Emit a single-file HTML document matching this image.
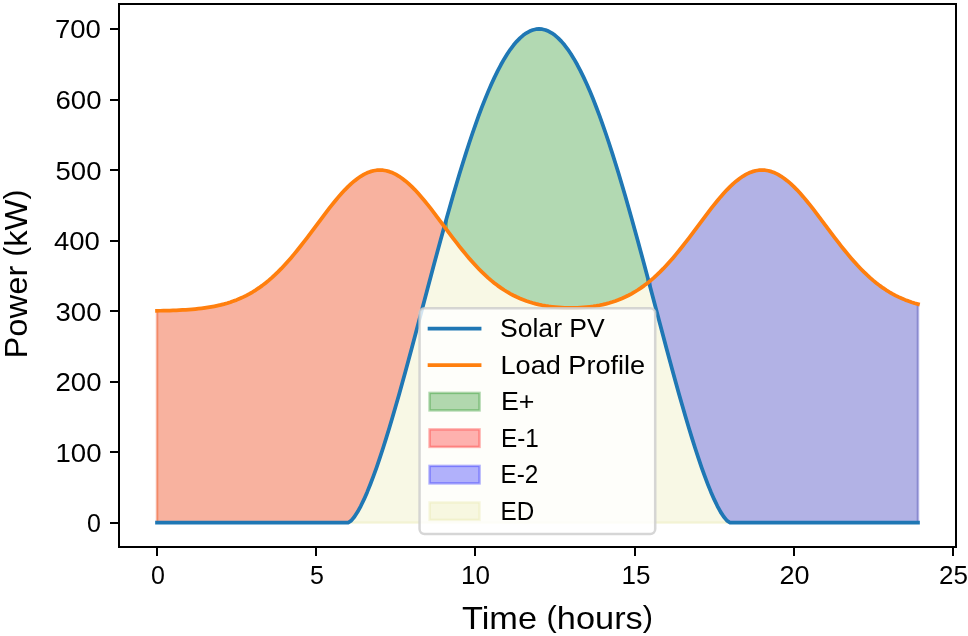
<!DOCTYPE html>
<html lang="en">
<head>
<meta charset="utf-8">
<title>Solar PV and Load Profile</title>
<style>
html,body{margin:0;padding:0;background:#fff;}
body{width:968px;height:636px;overflow:hidden;font-family:"Liberation Sans",sans-serif;}
svg{display:block;will-change:transform;}
svg text{font-family:"Liberation Sans",sans-serif;}
</style>
</head>
<body>
<svg width="968" height="636" viewBox="0 0 968 636" font-family="Liberation Sans, sans-serif" fill="#000">
<rect width="968" height="636" fill="#fff"/>
<g id="fills">
<polygon points="446.76,217.69 449.95,206.42 453.13,195.33 456.32,184.46 459.5,173.82 462.68,163.44 465.87,153.33 469.05,143.51 472.23,133.99 475.42,124.81 478.6,115.96 481.78,107.46 484.97,99.34 488.15,91.61 491.34,84.27 494.52,77.35 497.7,70.85 500.89,64.79 504.07,59.17 507.25,54.01 510.44,49.31 513.62,45.08 516.81,41.34 519.99,38.08 523.17,35.31 526.36,33.04 529.54,31.27 532.72,30 535.91,29.24 539.09,28.99 542.28,29.24 545.46,30 548.64,31.27 551.83,33.04 555.01,35.31 558.19,38.08 561.38,41.34 564.56,45.08 567.75,49.31 570.93,54.01 574.11,59.17 577.3,64.79 580.48,70.85 583.66,77.35 586.85,84.27 590.03,91.61 593.22,99.34 596.4,107.46 599.58,115.96 602.77,124.81 605.95,133.99 609.13,143.51 612.32,153.33 615.5,163.44 618.68,173.82 621.87,184.46 625.05,195.33 628.24,206.42 631.42,217.69 634.6,229.14 637.79,240.74 640.97,252.47 644.15,264.31 647.34,276.23 647.34,283.18 644.15,285.61 640.97,287.88 637.79,290.01 634.6,291.98 631.42,293.81 628.24,295.49 625.05,297.05 621.87,298.47 618.68,299.77 615.5,300.95 612.32,302.02 609.13,302.98 605.95,303.84 602.77,304.61 599.58,305.29 596.4,305.88 593.22,306.39 590.03,306.82 586.85,307.18 583.66,307.47 580.48,307.7 577.3,307.86 574.11,307.95 570.93,307.98 567.75,307.95 564.56,307.86 561.38,307.7 558.19,307.47 555.01,307.18 551.83,306.82 548.64,306.39 545.46,305.88 542.28,305.29 539.09,304.61 535.91,303.84 532.72,302.98 529.54,302.02 526.36,300.95 523.17,299.77 519.99,298.47 516.81,297.05 513.62,295.49 510.44,293.81 507.25,291.98 504.07,290.01 500.89,287.88 497.7,285.61 494.52,283.18 491.34,280.59 488.15,277.85 484.97,274.94 481.78,271.89 478.6,268.67 475.42,265.31 472.23,261.81 469.05,258.17 465.87,254.4 462.68,250.52 459.5,246.53 456.32,242.45 453.13,238.3 449.95,234.08 446.76,229.83" fill="#008000" fill-opacity="0.3" stroke="#008000" stroke-opacity="0.3" stroke-width="2.5" stroke-linejoin="round"/>
<polygon points="157.05,522.71 160.23,522.71 163.41,522.71 166.6,522.71 169.78,522.71 172.96,522.71 176.15,522.71 179.33,522.71 182.52,522.71 185.7,522.71 188.88,522.71 192.07,522.71 195.25,522.71 198.43,522.71 201.62,522.71 204.8,522.71 207.98,522.71 211.17,522.71 214.35,522.71 217.54,522.71 220.72,522.71 223.9,522.71 227.09,522.71 230.27,522.71 233.45,522.71 236.64,522.71 239.82,522.71 243.01,522.71 246.19,522.71 249.37,522.71 252.56,522.71 255.74,522.71 258.92,522.71 262.11,522.71 265.29,522.71 268.48,522.71 271.66,522.71 274.84,522.71 278.03,522.71 281.21,522.71 284.39,522.71 287.58,522.71 290.76,522.71 293.95,522.71 297.13,522.71 300.31,522.71 303.5,522.71 306.68,522.71 309.86,522.71 313.05,522.71 316.23,522.71 319.42,522.71 322.6,522.71 325.78,522.71 328.97,522.71 332.15,522.71 335.33,522.71 338.52,522.71 341.7,522.71 344.88,522.71 348.07,522.71 351.25,520.62 354.44,516.8 357.62,511.86 360.8,506.03 363.99,499.43 367.17,492.17 370.35,484.3 373.54,475.91 376.72,467.03 379.91,457.7 383.09,447.98 386.27,437.9 389.46,427.49 392.64,416.79 395.82,405.83 399.01,394.64 402.19,383.25 405.38,371.69 408.56,359.98 411.74,348.15 414.93,336.24 418.11,324.26 421.29,312.25 424.48,300.22 427.66,288.21 430.85,276.23 434.03,264.31 437.21,252.47 440.4,240.74 443.58,229.14 443.58,225.56 440.4,221.28 437.21,217.03 434.03,212.82 430.85,208.68 427.66,204.63 424.48,200.7 421.29,196.91 418.11,193.29 414.93,189.85 411.74,186.63 408.56,183.63 405.38,180.9 402.19,178.43 399.01,176.26 395.82,174.39 392.64,172.84 389.46,171.63 386.27,170.75 383.09,170.23 379.91,170.05 376.72,170.23 373.54,170.75 370.35,171.63 367.17,172.84 363.99,174.39 360.8,176.26 357.62,178.43 354.44,180.9 351.25,183.63 348.07,186.63 344.88,189.85 341.7,193.29 338.52,196.91 335.33,200.7 332.15,204.63 328.97,208.68 325.78,212.82 322.6,217.03 319.42,221.28 316.23,225.56 313.05,229.83 309.86,234.08 306.68,238.3 303.5,242.45 300.31,246.53 297.13,250.52 293.95,254.41 290.76,258.17 287.58,261.81 284.39,265.32 281.21,268.68 278.03,271.89 274.84,274.96 271.66,277.86 268.48,280.61 265.29,283.2 262.11,285.63 258.92,287.91 255.74,290.04 252.56,292.03 249.37,293.86 246.19,295.56 243.01,297.13 239.82,298.57 236.64,299.89 233.45,301.1 230.27,302.2 227.09,303.2 223.9,304.1 220.72,304.92 217.54,305.65 214.35,306.31 211.17,306.9 207.98,307.43 204.8,307.9 201.62,308.32 198.43,308.69 195.25,309.01 192.07,309.3 188.88,309.55 185.7,309.77 182.52,309.96 179.33,310.13 176.15,310.27 172.96,310.4 169.78,310.51 166.6,310.6 163.41,310.68 160.23,310.75 157.05,310.81" fill="#ff0000" fill-opacity="0.3" stroke="#ff0000" stroke-opacity="0.3" stroke-width="2.5" stroke-linejoin="round"/>
<polygon points="650.52,288.21 653.71,300.22 656.89,312.25 660.07,324.26 663.26,336.24 666.44,348.15 669.62,359.98 672.81,371.69 675.99,383.25 679.18,394.64 682.36,405.83 685.54,416.79 688.73,427.49 691.91,437.9 695.09,447.98 698.28,457.7 701.46,467.03 704.65,475.91 707.83,484.3 711.01,492.17 714.2,499.43 717.38,506.03 720.56,511.86 723.75,516.8 726.93,520.62 730.12,522.71 733.3,522.71 736.48,522.71 739.67,522.71 742.85,522.71 746.03,522.71 749.22,522.71 752.4,522.71 755.58,522.71 758.77,522.71 761.95,522.71 765.14,522.71 768.32,522.71 771.5,522.71 774.69,522.71 777.87,522.71 781.05,522.71 784.24,522.71 787.42,522.71 790.61,522.71 793.79,522.71 796.97,522.71 800.16,522.71 803.34,522.71 806.52,522.71 809.71,522.71 812.89,522.71 816.08,522.71 819.26,522.71 822.44,522.71 825.63,522.71 828.81,522.71 831.99,522.71 835.18,522.71 838.36,522.71 841.55,522.71 844.73,522.71 847.91,522.71 851.1,522.71 854.28,522.71 857.46,522.71 860.65,522.71 863.83,522.71 867.02,522.71 870.2,522.71 873.38,522.71 876.57,522.71 879.75,522.71 882.93,522.71 886.12,522.71 889.3,522.71 892.48,522.71 895.67,522.71 898.85,522.71 902.04,522.71 905.22,522.71 908.4,522.71 911.59,522.71 914.77,522.71 917.95,522.71 917.95,304.1 914.77,303.2 911.59,302.2 908.4,301.1 905.22,299.89 902.04,298.57 898.85,297.13 895.67,295.56 892.48,293.86 889.3,292.03 886.12,290.04 882.93,287.91 879.75,285.63 876.57,283.2 873.38,280.61 870.2,277.86 867.02,274.96 863.83,271.89 860.65,268.68 857.46,265.32 854.28,261.81 851.1,258.17 847.91,254.41 844.73,250.52 841.55,246.53 838.36,242.45 835.18,238.3 831.99,234.08 828.81,229.83 825.63,225.56 822.44,221.28 819.26,217.03 816.08,212.82 812.89,208.68 809.71,204.63 806.52,200.7 803.34,196.91 800.16,193.29 796.97,189.85 793.79,186.63 790.61,183.63 787.42,180.9 784.24,178.43 781.05,176.26 777.87,174.39 774.69,172.84 771.5,171.63 768.32,170.75 765.14,170.23 761.95,170.05 758.77,170.23 755.58,170.75 752.4,171.63 749.22,172.84 746.03,174.39 742.85,176.26 739.67,178.43 736.48,180.9 733.3,183.63 730.12,186.63 726.93,189.85 723.75,193.29 720.56,196.91 717.38,200.7 714.2,204.63 711.01,208.68 707.83,212.82 704.65,217.03 701.46,221.28 698.28,225.56 695.09,229.83 691.91,234.08 688.73,238.3 685.54,242.45 682.36,246.53 679.18,250.52 675.99,254.4 672.81,258.17 669.62,261.81 666.44,265.31 663.26,268.67 660.07,271.89 656.89,274.94 653.71,277.85 650.52,280.59" fill="#0000ff" fill-opacity="0.3" stroke="#0000ff" stroke-opacity="0.3" stroke-width="2.5" stroke-linejoin="round"/>
<polygon points="157.05,522.71 160.23,522.71 163.41,522.71 166.6,522.71 169.78,522.71 172.96,522.71 176.15,522.71 179.33,522.71 182.52,522.71 185.7,522.71 188.88,522.71 192.07,522.71 195.25,522.71 198.43,522.71 201.62,522.71 204.8,522.71 207.98,522.71 211.17,522.71 214.35,522.71 217.54,522.71 220.72,522.71 223.9,522.71 227.09,522.71 230.27,522.71 233.45,522.71 236.64,522.71 239.82,522.71 243.01,522.71 246.19,522.71 249.37,522.71 252.56,522.71 255.74,522.71 258.92,522.71 262.11,522.71 265.29,522.71 268.48,522.71 271.66,522.71 274.84,522.71 278.03,522.71 281.21,522.71 284.39,522.71 287.58,522.71 290.76,522.71 293.95,522.71 297.13,522.71 300.31,522.71 303.5,522.71 306.68,522.71 309.86,522.71 313.05,522.71 316.23,522.71 319.42,522.71 322.6,522.71 325.78,522.71 328.97,522.71 332.15,522.71 335.33,522.71 338.52,522.71 341.7,522.71 344.88,522.71 348.07,522.71 351.25,522.71 354.44,522.71 357.62,522.71 360.8,522.71 363.99,522.71 367.17,522.71 370.35,522.71 373.54,522.71 376.72,522.71 379.91,522.71 383.09,522.71 386.27,522.71 389.46,522.71 392.64,522.71 395.82,522.71 399.01,522.71 402.19,522.71 405.38,522.71 408.56,522.71 411.74,522.71 414.93,522.71 418.11,522.71 421.29,522.71 424.48,522.71 427.66,522.71 430.85,522.71 434.03,522.71 437.21,522.71 440.4,522.71 443.58,522.71 446.76,522.71 449.95,522.71 453.13,522.71 456.32,522.71 459.5,522.71 462.68,522.71 465.87,522.71 469.05,522.71 472.23,522.71 475.42,522.71 478.6,522.71 481.78,522.71 484.97,522.71 488.15,522.71 491.34,522.71 494.52,522.71 497.7,522.71 500.89,522.71 504.07,522.71 507.25,522.71 510.44,522.71 513.62,522.71 516.81,522.71 519.99,522.71 523.17,522.71 526.36,522.71 529.54,522.71 532.72,522.71 535.91,522.71 539.09,522.71 542.28,522.71 545.46,522.71 548.64,522.71 551.83,522.71 555.01,522.71 558.19,522.71 561.38,522.71 564.56,522.71 567.75,522.71 570.93,522.71 574.11,522.71 577.3,522.71 580.48,522.71 583.66,522.71 586.85,522.71 590.03,522.71 593.22,522.71 596.4,522.71 599.58,522.71 602.77,522.71 605.95,522.71 609.13,522.71 612.32,522.71 615.5,522.71 618.68,522.71 621.87,522.71 625.05,522.71 628.24,522.71 631.42,522.71 634.6,522.71 637.79,522.71 640.97,522.71 644.15,522.71 647.34,522.71 650.52,522.71 653.71,522.71 656.89,522.71 660.07,522.71 663.26,522.71 666.44,522.71 669.62,522.71 672.81,522.71 675.99,522.71 679.18,522.71 682.36,522.71 685.54,522.71 688.73,522.71 691.91,522.71 695.09,522.71 698.28,522.71 701.46,522.71 704.65,522.71 707.83,522.71 711.01,522.71 714.2,522.71 717.38,522.71 720.56,522.71 723.75,522.71 726.93,522.71 730.12,522.71 733.3,522.71 736.48,522.71 739.67,522.71 742.85,522.71 746.03,522.71 749.22,522.71 752.4,522.71 755.58,522.71 758.77,522.71 761.95,522.71 765.14,522.71 768.32,522.71 771.5,522.71 774.69,522.71 777.87,522.71 781.05,522.71 784.24,522.71 787.42,522.71 790.61,522.71 793.79,522.71 796.97,522.71 800.16,522.71 803.34,522.71 806.52,522.71 809.71,522.71 812.89,522.71 816.08,522.71 819.26,522.71 822.44,522.71 825.63,522.71 828.81,522.71 831.99,522.71 835.18,522.71 838.36,522.71 841.55,522.71 844.73,522.71 847.91,522.71 851.1,522.71 854.28,522.71 857.46,522.71 860.65,522.71 863.83,522.71 867.02,522.71 870.2,522.71 873.38,522.71 876.57,522.71 879.75,522.71 882.93,522.71 886.12,522.71 889.3,522.71 892.48,522.71 895.67,522.71 898.85,522.71 902.04,522.71 905.22,522.71 908.4,522.71 911.59,522.71 914.77,522.71 917.95,522.71 917.95,304.1 914.77,303.2 911.59,302.2 908.4,301.1 905.22,299.89 902.04,298.57 898.85,297.13 895.67,295.56 892.48,293.86 889.3,292.03 886.12,290.04 882.93,287.91 879.75,285.63 876.57,283.2 873.38,280.61 870.2,277.86 867.02,274.96 863.83,271.89 860.65,268.68 857.46,265.32 854.28,261.81 851.1,258.17 847.91,254.41 844.73,250.52 841.55,246.53 838.36,242.45 835.18,238.3 831.99,234.08 828.81,229.83 825.63,225.56 822.44,221.28 819.26,217.03 816.08,212.82 812.89,208.68 809.71,204.63 806.52,200.7 803.34,196.91 800.16,193.29 796.97,189.85 793.79,186.63 790.61,183.63 787.42,180.9 784.24,178.43 781.05,176.26 777.87,174.39 774.69,172.84 771.5,171.63 768.32,170.75 765.14,170.23 761.95,170.05 758.77,170.23 755.58,170.75 752.4,171.63 749.22,172.84 746.03,174.39 742.85,176.26 739.67,178.43 736.48,180.9 733.3,183.63 730.12,186.63 726.93,189.85 723.75,193.29 720.56,196.91 717.38,200.7 714.2,204.63 711.01,208.68 707.83,212.82 704.65,217.03 701.46,221.28 698.28,225.56 695.09,229.83 691.91,234.08 688.73,238.3 685.54,242.45 682.36,246.53 679.18,250.52 675.99,254.4 672.81,258.17 669.62,261.81 666.44,265.31 663.26,268.67 660.07,271.89 656.89,274.94 653.71,277.85 650.52,280.59 647.34,283.18 644.15,285.61 640.97,287.88 637.79,290.01 634.6,291.98 631.42,293.81 628.24,295.49 625.05,297.05 621.87,298.47 618.68,299.77 615.5,300.95 612.32,302.02 609.13,302.98 605.95,303.84 602.77,304.61 599.58,305.29 596.4,305.88 593.22,306.39 590.03,306.82 586.85,307.18 583.66,307.47 580.48,307.7 577.3,307.86 574.11,307.95 570.93,307.98 567.75,307.95 564.56,307.86 561.38,307.7 558.19,307.47 555.01,307.18 551.83,306.82 548.64,306.39 545.46,305.88 542.28,305.29 539.09,304.61 535.91,303.84 532.72,302.98 529.54,302.02 526.36,300.95 523.17,299.77 519.99,298.47 516.81,297.05 513.62,295.49 510.44,293.81 507.25,291.98 504.07,290.01 500.89,287.88 497.7,285.61 494.52,283.18 491.34,280.59 488.15,277.85 484.97,274.94 481.78,271.89 478.6,268.67 475.42,265.31 472.23,261.81 469.05,258.17 465.87,254.4 462.68,250.52 459.5,246.53 456.32,242.45 453.13,238.3 449.95,234.08 446.76,229.83 443.58,225.56 440.4,221.28 437.21,217.03 434.03,212.82 430.85,208.68 427.66,204.63 424.48,200.7 421.29,196.91 418.11,193.29 414.93,189.85 411.74,186.63 408.56,183.63 405.38,180.9 402.19,178.43 399.01,176.26 395.82,174.39 392.64,172.84 389.46,171.63 386.27,170.75 383.09,170.23 379.91,170.05 376.72,170.23 373.54,170.75 370.35,171.63 367.17,172.84 363.99,174.39 360.8,176.26 357.62,178.43 354.44,180.9 351.25,183.63 348.07,186.63 344.88,189.85 341.7,193.29 338.52,196.91 335.33,200.7 332.15,204.63 328.97,208.68 325.78,212.82 322.6,217.03 319.42,221.28 316.23,225.56 313.05,229.83 309.86,234.08 306.68,238.3 303.5,242.45 300.31,246.53 297.13,250.52 293.95,254.41 290.76,258.17 287.58,261.81 284.39,265.32 281.21,268.68 278.03,271.89 274.84,274.96 271.66,277.86 268.48,280.61 265.29,283.2 262.11,285.63 258.92,287.91 255.74,290.04 252.56,292.03 249.37,293.86 246.19,295.56 243.01,297.13 239.82,298.57 236.64,299.89 233.45,301.1 230.27,302.2 227.09,303.2 223.9,304.1 220.72,304.92 217.54,305.65 214.35,306.31 211.17,306.9 207.98,307.43 204.8,307.9 201.62,308.32 198.43,308.69 195.25,309.01 192.07,309.3 188.88,309.55 185.7,309.77 182.52,309.96 179.33,310.13 176.15,310.27 172.96,310.4 169.78,310.51 166.6,310.6 163.41,310.68 160.23,310.75 157.05,310.81" fill="#bfbf00" fill-opacity="0.1" stroke="#bfbf00" stroke-opacity="0.1" stroke-width="2.5" stroke-linejoin="round"/>
</g>
<g id="lines" fill="none" stroke-width="3.75" stroke-linecap="square" stroke-linejoin="round">
<polyline points="157.05,522.71 160.23,522.71 163.41,522.71 166.6,522.71 169.78,522.71 172.96,522.71 176.15,522.71 179.33,522.71 182.52,522.71 185.7,522.71 188.88,522.71 192.07,522.71 195.25,522.71 198.43,522.71 201.62,522.71 204.8,522.71 207.98,522.71 211.17,522.71 214.35,522.71 217.54,522.71 220.72,522.71 223.9,522.71 227.09,522.71 230.27,522.71 233.45,522.71 236.64,522.71 239.82,522.71 243.01,522.71 246.19,522.71 249.37,522.71 252.56,522.71 255.74,522.71 258.92,522.71 262.11,522.71 265.29,522.71 268.48,522.71 271.66,522.71 274.84,522.71 278.03,522.71 281.21,522.71 284.39,522.71 287.58,522.71 290.76,522.71 293.95,522.71 297.13,522.71 300.31,522.71 303.5,522.71 306.68,522.71 309.86,522.71 313.05,522.71 316.23,522.71 319.42,522.71 322.6,522.71 325.78,522.71 328.97,522.71 332.15,522.71 335.33,522.71 338.52,522.71 341.7,522.71 344.88,522.71 348.07,522.71 351.25,520.62 354.44,516.8 357.62,511.86 360.8,506.03 363.99,499.43 367.17,492.17 370.35,484.3 373.54,475.91 376.72,467.03 379.91,457.7 383.09,447.98 386.27,437.9 389.46,427.49 392.64,416.79 395.82,405.83 399.01,394.64 402.19,383.25 405.38,371.69 408.56,359.98 411.74,348.15 414.93,336.24 418.11,324.26 421.29,312.25 424.48,300.22 427.66,288.21 430.85,276.23 434.03,264.31 437.21,252.47 440.4,240.74 443.58,229.14 446.76,217.69 449.95,206.42 453.13,195.33 456.32,184.46 459.5,173.82 462.68,163.44 465.87,153.33 469.05,143.51 472.23,133.99 475.42,124.81 478.6,115.96 481.78,107.46 484.97,99.34 488.15,91.61 491.34,84.27 494.52,77.35 497.7,70.85 500.89,64.79 504.07,59.17 507.25,54.01 510.44,49.31 513.62,45.08 516.81,41.34 519.99,38.08 523.17,35.31 526.36,33.04 529.54,31.27 532.72,30 535.91,29.24 539.09,28.99 542.28,29.24 545.46,30 548.64,31.27 551.83,33.04 555.01,35.31 558.19,38.08 561.38,41.34 564.56,45.08 567.75,49.31 570.93,54.01 574.11,59.17 577.3,64.79 580.48,70.85 583.66,77.35 586.85,84.27 590.03,91.61 593.22,99.34 596.4,107.46 599.58,115.96 602.77,124.81 605.95,133.99 609.13,143.51 612.32,153.33 615.5,163.44 618.68,173.82 621.87,184.46 625.05,195.33 628.24,206.42 631.42,217.69 634.6,229.14 637.79,240.74 640.97,252.47 644.15,264.31 647.34,276.23 650.52,288.21 653.71,300.22 656.89,312.25 660.07,324.26 663.26,336.24 666.44,348.15 669.62,359.98 672.81,371.69 675.99,383.25 679.18,394.64 682.36,405.83 685.54,416.79 688.73,427.49 691.91,437.9 695.09,447.98 698.28,457.7 701.46,467.03 704.65,475.91 707.83,484.3 711.01,492.17 714.2,499.43 717.38,506.03 720.56,511.86 723.75,516.8 726.93,520.62 730.12,522.71 733.3,522.71 736.48,522.71 739.67,522.71 742.85,522.71 746.03,522.71 749.22,522.71 752.4,522.71 755.58,522.71 758.77,522.71 761.95,522.71 765.14,522.71 768.32,522.71 771.5,522.71 774.69,522.71 777.87,522.71 781.05,522.71 784.24,522.71 787.42,522.71 790.61,522.71 793.79,522.71 796.97,522.71 800.16,522.71 803.34,522.71 806.52,522.71 809.71,522.71 812.89,522.71 816.08,522.71 819.26,522.71 822.44,522.71 825.63,522.71 828.81,522.71 831.99,522.71 835.18,522.71 838.36,522.71 841.55,522.71 844.73,522.71 847.91,522.71 851.1,522.71 854.28,522.71 857.46,522.71 860.65,522.71 863.83,522.71 867.02,522.71 870.2,522.71 873.38,522.71 876.57,522.71 879.75,522.71 882.93,522.71 886.12,522.71 889.3,522.71 892.48,522.71 895.67,522.71 898.85,522.71 902.04,522.71 905.22,522.71 908.4,522.71 911.59,522.71 914.77,522.71 917.95,522.71" stroke="#1f77b4"/>
<polyline points="157.05,310.81 160.23,310.75 163.41,310.68 166.6,310.6 169.78,310.51 172.96,310.4 176.15,310.27 179.33,310.13 182.52,309.96 185.7,309.77 188.88,309.55 192.07,309.3 195.25,309.01 198.43,308.69 201.62,308.32 204.8,307.9 207.98,307.43 211.17,306.9 214.35,306.31 217.54,305.65 220.72,304.92 223.9,304.1 227.09,303.2 230.27,302.2 233.45,301.1 236.64,299.89 239.82,298.57 243.01,297.13 246.19,295.56 249.37,293.86 252.56,292.03 255.74,290.04 258.92,287.91 262.11,285.63 265.29,283.2 268.48,280.61 271.66,277.86 274.84,274.96 278.03,271.89 281.21,268.68 284.39,265.32 287.58,261.81 290.76,258.17 293.95,254.41 297.13,250.52 300.31,246.53 303.5,242.45 306.68,238.3 309.86,234.08 313.05,229.83 316.23,225.56 319.42,221.28 322.6,217.03 325.78,212.82 328.97,208.68 332.15,204.63 335.33,200.7 338.52,196.91 341.7,193.29 344.88,189.85 348.07,186.63 351.25,183.63 354.44,180.9 357.62,178.43 360.8,176.26 363.99,174.39 367.17,172.84 370.35,171.63 373.54,170.75 376.72,170.23 379.91,170.05 383.09,170.23 386.27,170.75 389.46,171.63 392.64,172.84 395.82,174.39 399.01,176.26 402.19,178.43 405.38,180.9 408.56,183.63 411.74,186.63 414.93,189.85 418.11,193.29 421.29,196.91 424.48,200.7 427.66,204.63 430.85,208.68 434.03,212.82 437.21,217.03 440.4,221.28 443.58,225.56 446.76,229.83 449.95,234.08 453.13,238.3 456.32,242.45 459.5,246.53 462.68,250.52 465.87,254.4 469.05,258.17 472.23,261.81 475.42,265.31 478.6,268.67 481.78,271.89 484.97,274.94 488.15,277.85 491.34,280.59 494.52,283.18 497.7,285.61 500.89,287.88 504.07,290.01 507.25,291.98 510.44,293.81 513.62,295.49 516.81,297.05 519.99,298.47 523.17,299.77 526.36,300.95 529.54,302.02 532.72,302.98 535.91,303.84 539.09,304.61 542.28,305.29 545.46,305.88 548.64,306.39 551.83,306.82 555.01,307.18 558.19,307.47 561.38,307.7 564.56,307.86 567.75,307.95 570.93,307.98 574.11,307.95 577.3,307.86 580.48,307.7 583.66,307.47 586.85,307.18 590.03,306.82 593.22,306.39 596.4,305.88 599.58,305.29 602.77,304.61 605.95,303.84 609.13,302.98 612.32,302.02 615.5,300.95 618.68,299.77 621.87,298.47 625.05,297.05 628.24,295.49 631.42,293.81 634.6,291.98 637.79,290.01 640.97,287.88 644.15,285.61 647.34,283.18 650.52,280.59 653.71,277.85 656.89,274.94 660.07,271.89 663.26,268.67 666.44,265.31 669.62,261.81 672.81,258.17 675.99,254.4 679.18,250.52 682.36,246.53 685.54,242.45 688.73,238.3 691.91,234.08 695.09,229.83 698.28,225.56 701.46,221.28 704.65,217.03 707.83,212.82 711.01,208.68 714.2,204.63 717.38,200.7 720.56,196.91 723.75,193.29 726.93,189.85 730.12,186.63 733.3,183.63 736.48,180.9 739.67,178.43 742.85,176.26 746.03,174.39 749.22,172.84 752.4,171.63 755.58,170.75 758.77,170.23 761.95,170.05 765.14,170.23 768.32,170.75 771.5,171.63 774.69,172.84 777.87,174.39 781.05,176.26 784.24,178.43 787.42,180.9 790.61,183.63 793.79,186.63 796.97,189.85 800.16,193.29 803.34,196.91 806.52,200.7 809.71,204.63 812.89,208.68 816.08,212.82 819.26,217.03 822.44,221.28 825.63,225.56 828.81,229.83 831.99,234.08 835.18,238.3 838.36,242.45 841.55,246.53 844.73,250.52 847.91,254.41 851.1,258.17 854.28,261.81 857.46,265.32 860.65,268.68 863.83,271.89 867.02,274.96 870.2,277.86 873.38,280.61 876.57,283.2 879.75,285.63 882.93,287.91 886.12,290.04 889.3,292.03 892.48,293.86 895.67,295.56 898.85,297.13 902.04,298.57 905.22,299.89 908.4,301.1 911.59,302.2 914.77,303.2 917.95,304.1" stroke="#ff7f0e"/>
</g>
<g id="axes" shape-rendering="crispEdges">
<rect x="118" y="3" width="839" height="2"/><rect x="118" y="546" width="839" height="2"/><rect x="118" y="3" width="2" height="545"/><rect x="955" y="3" width="2" height="545"/>
<rect x="110" y="28" width="9" height="2"/><rect x="110" y="99" width="9" height="2"/><rect x="110" y="169" width="9" height="2"/><rect x="110" y="240" width="9" height="2"/><rect x="110" y="310" width="9" height="2"/><rect x="110" y="381" width="9" height="2"/><rect x="110" y="451" width="9" height="2"/><rect x="110" y="522" width="9" height="2"/>
<rect x="156" y="547" width="2" height="9"/><rect x="315" y="547" width="2" height="9"/><rect x="474" y="547" width="2" height="9"/><rect x="634" y="547" width="2" height="9"/><rect x="793" y="547" width="2" height="9"/><rect x="952" y="547" width="2" height="9"/>
</g>
<g id="ticklabels">
<text transform="translate(55 38) scale(1.1000 1)" font-size="25">700</text>
<text transform="translate(55.5 109) scale(1.1018 1)" font-size="25">600</text>
<text transform="translate(55.5 180) scale(1.1018 1)" font-size="25">500</text>
<text transform="translate(54 250) scale(1.1000 1)" font-size="25">400</text>
<text transform="translate(55.5 321) scale(1.1018 1)" font-size="25">300</text>
<text transform="translate(55.5 391) scale(1.1018 1)" font-size="25">200</text>
<text transform="translate(55.5 462) scale(1.1044 1)" font-size="25">100</text>
<text transform="translate(87 532) scale(1.0000 1)" font-size="25">0</text>
<text transform="translate(151 584) scale(1.0000 1)" font-size="25">0</text>
<text transform="translate(310 584) scale(1.0000 1)" font-size="25">5</text>
<text transform="translate(461 584) scale(1.0415 1)" font-size="25">10</text>
<text transform="translate(621.5 584) scale(1.0400 1)" font-size="25">15</text>
<text transform="translate(779.5 584) scale(1.0799 1)" font-size="25">20</text>
<text transform="translate(939 584) scale(1.0399 1)" font-size="25">25</text>
</g>
<text transform="translate(462 629) scale(1.0732 1)" font-size="32">Time <tspan font-size="28.7" dy="-2">(</tspan><tspan dy="2">hours</tspan><tspan font-size="28.7" dy="-2">)</tspan></text>
<text transform="translate(27 358.5) rotate(-90) scale(1.0234 1)" font-size="32">Power <tspan font-size="28.7" dy="-2">(</tspan><tspan dy="2">kW</tspan><tspan font-size="28.7" dy="-2">)</tspan></text>
<g id="legend">
<rect x="419.56" y="308.2" width="235.64" height="225.9" rx="5" ry="5" fill="#fff" fill-opacity="0.8" stroke="#ccc" stroke-opacity="0.8" stroke-width="2.5"/>
<line x1="429.56" y1="328.65" x2="479.56" y2="328.65" stroke="#1f77b4" stroke-width="3.75" stroke-linecap="square"/>
<line x1="429.56" y1="365.15" x2="479.56" y2="365.15" stroke="#ff7f0e" stroke-width="3.75" stroke-linecap="square"/>
<rect x="429.56" y="392.9" width="50" height="17.5" fill="#008000" fill-opacity="0.3" stroke="#008000" stroke-opacity="0.3" stroke-width="2.5"/>
<rect x="429.56" y="429.4" width="50" height="17.5" fill="#ff0000" fill-opacity="0.3" stroke="#ff0000" stroke-opacity="0.3" stroke-width="2.5"/>
<rect x="429.56" y="465.9" width="50" height="17.5" fill="#0000ff" fill-opacity="0.3" stroke="#0000ff" stroke-opacity="0.3" stroke-width="2.5"/>
<rect x="429.56" y="502.4" width="50" height="17.5" fill="#bfbf00" fill-opacity="0.1" stroke="#bfbf00" stroke-opacity="0.1" stroke-width="2.5"/>
<text transform="translate(500 337) scale(1.0625 1)" font-size="25">Solar PV</text>
<text transform="translate(500.5 374) scale(1.0846 1)" font-size="25">Load Profile</text>
<text transform="translate(501 410) scale(1.0714 1)" font-size="25">E+</text>
<text transform="translate(501 447) scale(0.9730 1)" font-size="25">E-1</text>
<text transform="translate(500.5 483) scale(0.9731 1)" font-size="25">E-2</text>
<text transform="translate(500.5 520) scale(0.9698 1)" font-size="25">ED</text>
</g>
</svg>
</body>
</html>
